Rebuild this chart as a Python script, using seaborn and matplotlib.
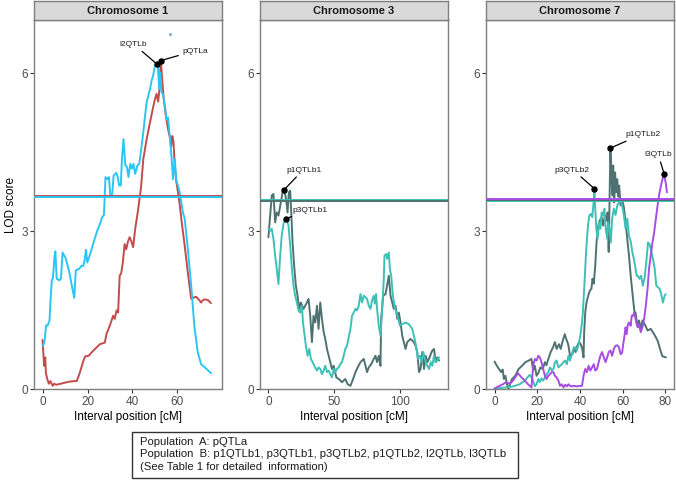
import numpy as np
import pandas as pd
import matplotlib
matplotlib.use("Agg")
import matplotlib.pyplot as plt
from matplotlib.patches import Rectangle
import seaborn as sns

sns.set_theme(style="white")
plt.rcParams['font.family'] = ['Liberation Sans', 'DejaVu Sans']

# ---------------- data ----------------
chromosomes = ["Chromosome 1", "Chromosome 3", "Chromosome 7"]

# Chromosome 1, Population A: pQTLa
chr1_pqtla_cm = [0, 0.7, 1.2, 1.5, 2.1, 2.8, 3.5, 4.5, 5.2, 6, 8, 10, 12, 14, 15.2, 16.5, 18.2, 19, 20.5,
                 22.6, 25.5, 27.7, 28.4, 29.9, 31.4, 32.1, 32.9, 33.6, 34.3, 35, 35.7, 36.5, 37.2, 38,
                 38.7, 39.5, 40.3, 41.2, 42.5, 43.1, 43.8, 44.8, 46.3, 47.8, 49.2, 50, 50.7, 51.4, 51.9,
                 52.6, 53.3, 53.9, 54.8, 55.8, 56.6, 57.2, 57.7, 58.2, 58.8, 59.5, 60.2, 61, 61.7, 63.2,
                 64.6, 66.1, 66.9, 68.3, 69, 69.8, 70.5, 71.2, 71.9, 73.4, 74.9]
chr1_pqtla_lod = [0.93, 0.44, 0.6, 0.3, 0.19, 0.1, 0.15, 0.06, 0.1, 0.08, 0.1, 0.12, 0.14, 0.15, 0.15, 0.3,
                  0.54, 0.62, 0.63, 0.73, 0.85, 0.88, 1.04, 1.2, 1.39, 1.33, 1.49, 1.45, 2.15, 2.2, 2.4,
                  2.75, 2.65, 2.8, 2.88, 2.8, 2.69, 3.04, 3.4, 3.6, 3.83, 4.36, 4.74, 5.06, 5.35, 5.5,
                  5.6, 5.45, 5.65, 6.23, 5.82, 5.5, 5.19, 4.93, 4.78, 4.6, 4.8, 4.7, 4.24, 3.93, 3.74, 3.5,
                  3.23, 2.72, 2.21, 1.71, 1.73, 1.75, 1.72, 1.68, 1.64, 1.68, 1.7, 1.69, 1.63]

# Chromosome 1, Population B: l2QTLb
chr1_l2qtlb_cm = [0.1, 0.8, 1.6, 2.2, 3.1, 3.5, 4.1, 4.6, 5.3, 5.7, 6.3, 7.5, 8.2, 8.9, 10.4, 11.9, 13.3,
                  14.1, 14.8, 16.3, 17.4, 18.1, 18.8, 19.3, 19.9, 21.4, 22.9, 24.3, 25.8, 26.5, 27.3,
                  28.0, 28.8, 29.5, 30.2, 30.9, 31.6, 32.8, 33.4, 34.1, 34.8, 35.3, 36.0, 36.8, 37.5,
                  38.2, 39.0, 39.7, 40.4, 41.2, 42.2, 43.0, 43.7, 44.8, 45.6, 46.3, 47.8, 48.5, 49.2,
                  50.0, 50.7, 51.3, 51.9, 52.4, 52.9, 53.6, 54.4, 55.1, 55.8, 56.6, 57.3, 58.0, 58.8,
                  59.5, 60.2, 61.0, 61.7, 62.4, 63.2, 64.6, 66.1, 67.5, 69.0, 70.5, 72.7, 74.9]
chr1_l2qtlb_lod = [0.82, 0.88, 1.21, 1.2, 1.3, 1.64, 2.06, 2.1, 2.5, 2.61, 2.09, 2.06, 2.1, 2.59, 2.47, 2.21,
                   1.9, 1.73, 2.25, 2.28, 2.34, 2.33, 2.47, 2.64, 2.4, 2.59, 2.81, 3.0, 3.16, 3.26, 3.3,
                   4.02, 3.98, 4.02, 3.64, 3.66, 4.05, 4.1, 4.02, 3.86, 3.86, 4.36, 4.74, 4.24, 4.22,
                   4.02, 4.27, 4.18, 4.27, 4.08, 4.24, 4.27, 4.49, 4.87, 5.19, 5.44, 5.69, 5.85, 5.95,
                   6.13, 6.17, 6.1, 5.69, 6.0, 5.63, 5.58, 5.38, 5.12, 5.15, 4.78, 4.43, 3.98, 4.36,
                   3.95, 3.86, 3.73, 3.54, 3.35, 3.23, 2.66, 1.96, 1.2, 0.7, 0.47, 0.39, 0.3]

# Chromosome 3, Population B: p1QTLb1
chr3_p1qtlb_cm = [0, 1.3, 2.5, 3.8, 5.1, 6.3, 7.6, 9.4, 10.7, 11.9, 13.4, 14.5, 15.5, 16.5, 17.3, 18.3,
                  19.5, 20.8, 22.1, 23.3, 24.6, 26.6, 29.2, 30.4, 31.7, 33.0, 34.2, 35.5, 36.8, 38.0,
                  39.3, 40.6, 41.9, 43.1, 44.4, 45.7, 46.9, 48.2, 49.5, 51.5, 53.3, 55.8, 58.3, 60.1,
                  62.2, 64.2, 66.0, 67.7, 69.8, 72.3, 73.6, 74.8, 76.1, 77.9, 79.9, 81.2, 82.4, 83.7,
                  85.0, 85.5, 87.0, 88.8, 90.0, 91.3, 92.6, 93.9, 95.1, 96.4, 97.7, 98.9, 100.2, 101.5,
                  102.7, 104.0, 105.3, 107.8, 110.3, 111.6, 112.9, 114.2, 115.4, 116.7, 118.0, 119.3,
                  120.5, 121.8, 123.1, 124.3, 125.6, 126.9, 128.1, 129.4]
chr3_p1qtlb_lod = [2.88, 3.29, 3.67, 3.7, 3.16, 3.35, 3.29, 3.54, 3.73, 3.78, 3.6, 3.35, 3.73, 3.76, 3.35,
                   2.78, 2.34, 1.96, 1.77, 1.52, 1.64, 1.52, 1.64, 1.71, 1.39, 0.89, 1.39, 1.26, 1.58,
                   1.14, 1.64, 1.33, 1.08, 0.95, 0.76, 0.63, 0.51, 0.38, 0.44, 0.22, 0.19, 0.13, 0.19,
                   0.09, 0.06, 0.19, 0.32, 0.41, 0.51, 0.57, 0.44, 0.32, 0.41, 0.47, 0.57, 0.63, 0.51,
                   0.63, 0.44, 1.33, 1.77, 1.8, 1.96, 2.15, 1.77, 1.64, 1.52, 1.58, 1.33, 1.45, 1.26,
                   1.01, 0.89, 0.76, 0.89, 0.95, 0.89, 0.82, 0.7, 0.32, 0.38, 0.7, 0.38, 0.63, 0.51,
                   0.57, 0.66, 0.73, 0.76, 0.51, 0.6, 0.54]

# Chromosome 3, Population B: p3QTLb1
chr3_p3qtlb_cm = [0, 1.3, 2.5, 3.8, 5.1, 6.3, 7.6, 8.9, 10.1, 11.4, 12.7, 14.0, 15.2, 16.5, 17.8, 19.0,
                  20.3, 21.6, 22.8, 24.1, 25.4, 26.2, 27.1, 28.4, 29.7, 31.0, 32.2, 33.5, 34.8, 36.8,
                  38.0, 39.3, 40.6, 41.9, 43.1, 44.4, 45.7, 46.9, 48.2, 49.5, 50.8, 52.0, 53.3, 54.5,
                  55.8, 57.1, 58.3, 59.6, 60.9, 62.2, 63.4, 64.7, 66.0, 67.2, 68.5, 69.8, 71.0, 72.3,
                  73.6, 74.8, 76.1, 77.4, 78.6, 79.9, 80.7, 81.7, 82.4, 83.7, 85.0, 86.3, 87.5, 88.0,
                  89.3, 90.0, 91.3, 92.1, 93.1, 94.4, 95.6, 96.9, 98.2, 99.7, 101.5, 104.0, 106.5,
                  109.1, 110.9, 112.4, 113.4, 114.9, 116.2, 117.5, 119.3, 120.5, 121.8, 123.1, 124.3,
                  125.6, 126.9, 128.1, 129.4]
chr3_p3qtlb_lod = [3.04, 3.0, 3.04, 2.85, 2.53, 2.28, 1.99, 2.53, 2.91, 3.13, 3.23, 3.2, 3.1, 2.72, 2.28,
                   1.96, 1.77, 1.64, 1.49, 1.45, 1.58, 1.26, 1.08, 0.82, 0.63, 0.76, 0.57, 0.51, 0.44,
                   0.35, 0.41, 0.38, 0.28, 0.35, 0.44, 0.32, 0.35, 0.28, 0.22, 0.38, 0.32, 0.38, 0.41,
                   0.47, 0.51, 0.63, 0.76, 0.82, 0.98, 1.14, 1.39, 1.45, 1.52, 1.49, 1.58, 1.8, 1.64,
                   1.77, 1.74, 1.71, 1.58, 1.52, 1.68, 1.77, 1.62, 1.8, 1.52, 1.2, 1.01, 1.52, 2.09,
                   2.53, 2.56, 2.47, 2.59, 2.28, 2.15, 1.77, 1.58, 1.45, 1.36, 1.2, 1.23, 1.26, 1.23,
                   1.14, 0.95, 0.76, 0.57, 0.63, 0.51, 0.7, 0.51, 0.44, 0.38, 0.51, 0.44, 0.63, 0.51,
                   0.54, 0.6]

# Chromosome 7, Population B: p1QTLb2
chr7_p1qtlb_cm = [0, 1.1, 1.9, 3.1, 3.8, 4.4, 5.1, 5.8, 6.6, 7.4, 8.2, 9.7, 11.3, 12.9, 14.5, 16.0, 17.3,
                  18.1, 18.9, 19.7, 20.5, 21.5, 22.6, 23.6, 24.3, 25.2, 26.3, 27.4, 28.3, 29.1, 30.2,
                  31.0, 31.8, 32.9, 33.6, 34.5, 35.4, 36.5, 37.3, 38.0, 38.8, 39.6, 40.4, 41.1, 41.7,
                  42.0, 42.5, 43.1, 43.9, 44.7, 45.4, 45.9, 46.5, 47.2, 47.8, 48.6, 49.4, 50.2, 50.9,
                  51.7, 52.4, 53.0, 53.5, 54.3, 54.8, 55.3, 55.6, 56.1, 56.5, 57.0, 57.5, 58.0, 58.4,
                  59.1, 59.8, 60.6, 61.4, 62.2, 63.0, 63.8, 64.8, 65.6, 66.1, 66.9, 67.7, 68.5, 69.3,
                  70.5, 71.7, 73.2, 74.8, 76.4, 78.0, 78.7, 80.3]
chr7_p1qtlb_lod = [0.52, 0.44, 0.39, 0.32, 0.37, 0.19, 0.25, 0.09, 0.0, 0.11, 0.19, 0.25, 0.38, 0.44, 0.51,
                   0.54, 0.57, 0.35, 0.44, 0.25, 0.3, 0.41, 0.38, 0.51, 0.45, 0.57, 0.7, 0.79, 0.89,
                   0.76, 0.85, 0.76, 0.89, 1.04, 0.95, 0.85, 0.63, 0.66, 0.79, 0.7, 0.82, 0.89, 0.85,
                   0.76, 0.6, 1.08, 1.45, 1.64, 1.77, 1.87, 1.9, 2.09, 2.0, 2.34, 2.78, 3.1, 3.2, 3.26,
                   3.1, 3.29, 3.2, 3.35, 2.6, 4.57, 3.98, 3.67, 4.24, 3.54, 4.11, 3.73, 3.98, 3.65,
                   3.86, 3.48, 3.6, 3.45, 3.16, 2.85, 2.53, 2.15, 1.75, 1.45, 1.45, 1.2, 1.3, 1.14, 1.3,
                   1.22, 1.11, 1.14, 1.04, 0.92, 0.7, 0.62, 0.6]

# Chromosome 7, Population B: p3QTLb2
chr7_p3qtlb_cm = [0, 3.0, 5.5, 8.7, 11.8, 14.2, 16.5, 17.7, 18.9, 19.7, 20.5, 21.2, 22.0, 22.8, 23.6,
                  24.4, 25.2, 26.0, 26.8, 27.6, 28.3, 29.1, 29.9, 30.7, 31.5, 32.3, 33.1, 33.9, 34.6,
                  35.4, 36.2, 37.0, 37.8, 38.6, 39.4, 40.2, 40.9, 41.4, 42.0, 42.5, 42.8, 43.3, 43.8,
                  44.4, 45.1, 45.8, 46.5, 46.8, 47.2, 47.7, 48.3, 49.0, 49.6, 50.2, 50.9, 51.5, 52.1,
                  52.8, 53.2, 53.9, 54.5, 55.1, 55.9, 56.7, 57.5, 58.3, 59.1, 59.8, 60.6, 61.4, 62.2,
                  63.0, 63.8, 64.6, 65.4, 66.1, 66.6, 67.1, 67.9, 68.7, 69.5, 70.3, 71.1, 71.9, 72.6,
                  73.4, 74.2, 75.0, 75.8, 76.6, 77.4, 78.1, 78.9, 79.7, 80.2]
chr7_p3qtlb_lod = [0.01, 0.02, 0.03, 0.05, 0.09, 0.16, 0.27, 0.2, 0.05, 0.09, 0.19, 0.13, 0.2, 0.16, 0.22,
                   0.28, 0.32, 0.41, 0.35, 0.38, 0.51, 0.54, 0.41, 0.44, 0.47, 0.51, 0.54, 0.47, 0.63,
                   0.54, 0.66, 0.76, 0.79, 0.73, 0.85, 1.01, 1.23, 1.45, 1.9, 2.28, 2.53, 2.85, 3.1,
                   3.29, 3.32, 3.26, 3.57, 3.8, 3.42, 3.04, 2.85, 3.16, 3.04, 3.35, 3.29, 3.42, 3.04,
                   2.85, 3.16, 3.04, 2.78, 3.23, 3.42, 3.3, 3.48, 3.54, 3.6, 3.48, 3.3, 3.04, 3.23, 2.91,
                   2.8, 2.59, 2.45, 2.28, 2.15, 2.15, 2.09, 2.15, 1.96, 2.1, 2.4, 2.78, 2.75, 2.62, 2.47,
                   2.3, 1.96, 1.93, 1.9, 1.8, 1.64, 1.77, 1.8]

# Chromosome 7, Population B: l3QTLb
chr7_l3qtlb_cm = [0, 2.4, 3.9, 5.5, 7.1, 8.7, 11.0, 12.6, 14.2, 15.7, 17.3, 18.1, 18.9, 19.7, 20.5, 21.2,
                  22.0, 22.8, 23.6, 24.4, 25.2, 26.0, 26.8, 27.6, 28.3, 29.1, 29.9, 30.7, 31.5, 32.3,
                  33.1, 33.9, 34.6, 35.4, 36.2, 37.0, 38.6, 40.2, 41.0, 41.7, 42.5, 43.3, 44.1, 44.9,
                  45.7, 46.5, 47.2, 48.0, 48.8, 49.6, 50.4, 51.2, 52.0, 52.8, 53.5, 54.3, 55.1, 55.9,
                  56.7, 57.5, 58.3, 59.1, 59.8, 60.3, 60.9, 61.4, 61.9, 62.5, 63.1, 63.8, 64.3, 64.9,
                  65.4, 66.1, 66.6, 67.1, 67.7, 68.5, 69.3, 70.1, 70.9, 71.7, 72.4, 73.2, 74.0, 74.8,
                  75.6, 76.4, 77.2, 78.0, 78.7, 79.5, 80.3, 80.8]
chr7_l3qtlb_lod = [0.01, 0.06, 0.09, 0.13, 0.1, 0.16, 0.3, 0.22, 0.16, 0.09, 0.03, 0.44, 0.57, 0.54, 0.63,
                   0.6, 0.51, 0.38, 0.25, 0.19, 0.25, 0.28, 0.32, 0.32, 0.25, 0.22, 0.16, 0.06, 0.09,
                   0.03, 0.08, 0.05, 0.09, 0.06, 0.05, 0.06, 0.05, 0.06, 0.06, 0.25, 0.38, 0.32, 0.44,
                   0.35, 0.41, 0.47, 0.35, 0.38, 0.51, 0.63, 0.7, 0.6, 0.51, 0.6, 0.7, 0.73, 0.63, 0.76,
                   0.82, 0.83, 0.79, 0.66, 0.69, 0.85, 1.01, 1.17, 1.04, 1.23, 1.26, 1.2, 1.39, 1.39,
                   1.45, 1.33, 1.23, 1.17, 1.23, 1.08, 1.17, 1.33, 1.58, 1.9, 2.28, 2.53, 2.78, 2.97,
                   3.23, 3.48, 3.7, 3.86, 3.98, 4.08, 3.89, 3.73]

# LOD significance thresholds (per chromosome, per trait)
chr1_thresholds = {"pQTLa": 3.67, "l2QTLb": 3.65}
chr3_thresholds = {"p3QTLb": 3.585, "p1QTLb": 3.575}
chr7_thresholds = {"p3QTLb": 3.575, "p1QTLb": 3.58, "l3QTLb": 3.595}

# labelled QTL peaks
peak_labels = ["l2QTLb", "pQTLa", "p1QTLb1", "p3QTLb1", "p3QTLb2", "p1QTLb2", "l3QTLb"]
peak_chrom = [0, 0, 1, 1, 2, 2, 2]
peak_cm = [50.7, 52.6, 11.9, 13.4, 46.8, 54.3, 79.5]
peak_lod = [6.17, 6.23, 3.78, 3.23, 3.80, 4.57, 4.08]
label_cm = [46.4, 62.4, 13.5, 18.0, 44.6, 61.2, 76.6]
label_lod = [6.55, 6.42, 4.17, 3.41, 4.17, 4.84, 4.46]
label_ha = ["right", "left", "left", "left", "right", "left", "center"]

# stray point in chromosome 1 panel
stray_cm = [56.7]
stray_lod = [6.74]

colors = {"pQTLa": "#C24B4B", "l2QTLb": "#2BC5F3", "p1QTLb": "#4E7272",
          "p3QTLb": "#3FC0B7", "l3QTLb": "#A64DE2"}

frames = []
def add(chrom, trait, cm, lod):
    frames.append(pd.DataFrame({"chrom": chrom, "trait": trait, "cM": cm, "LOD": lod}))

add(0, "pQTLa", chr1_pqtla_cm, chr1_pqtla_lod)
add(0, "l2QTLb", chr1_l2qtlb_cm, chr1_l2qtlb_lod)
add(1, "p1QTLb", chr3_p1qtlb_cm, chr3_p1qtlb_lod)
add(1, "p3QTLb", chr3_p3qtlb_cm, chr3_p3qtlb_lod)
add(2, "p1QTLb", chr7_p1qtlb_cm, chr7_p1qtlb_lod)
add(2, "p3QTLb", chr7_p3qtlb_cm, chr7_p3qtlb_lod)
add(2, "l3QTLb", chr7_l3qtlb_cm, chr7_l3qtlb_lod)
df = pd.concat(frames, ignore_index=True)

thresholds = [chr1_thresholds, chr3_thresholds, chr7_thresholds]
xlims = [(-3.8, 79.8), (-6.4, 136.2), (-4.0, 84.1)]
xticks = [[0, 20, 40, 60], [0, 50, 100], [0, 20, 40, 60, 80]]

# ---------------- figure ----------------
W, H = 676, 481
fig = plt.figure(figsize=(W / 100, H / 100), dpi=100)
fig.patch.set_facecolor("white")

panel_left = [34, 260, 486]
panel_w = 188
top_px, bottom_px = 21, 390
strip_top = 2

tick_col = "#4D4D4D"
for i in range(3):
    l = panel_left[i] / W
    b = (H - bottom_px) / H
    ax = fig.add_axes([l, b, panel_w / W, (bottom_px - top_px) / H])
    sub = df[df["chrom"] == i]
    order = list(dict.fromkeys(sub["trait"]))
    sns.lineplot(data=sub, x="cM", y="LOD", hue="trait", hue_order=order,
                 palette=colors, estimator=None, sort=False, linewidth=1.4,
                 legend=False, ax=ax)
    for trait, thr in thresholds[i].items():
        ax.axhline(thr, color=colors[trait], linewidth=1.4, zorder=3)
    if i == 0:
        ax.scatter(stray_cm, stray_lod, s=2, color="#8FB8D6", zorder=4)
    for j in range(len(peak_labels)):
        if peak_chrom[j] != i:
            continue
        ax.annotate(peak_labels[j], xy=(peak_cm[j], peak_lod[j]),
                    xytext=(label_cm[j], label_lod[j]), textcoords="data",
                    fontsize=6.0, color="#1A1A1A", ha=label_ha[j], va="center",
                    arrowprops=dict(arrowstyle="-", color="black", lw=0.9,
                                    shrinkA=1, shrinkB=0), zorder=6)
        ax.scatter([peak_cm[j]], [peak_lod[j]], s=13, color="black", zorder=7)
    ax.set_xlim(*xlims[i])
    ax.set_ylim(0, 7.0)
    ax.set_xticks(xticks[i])
    ax.set_yticks([0, 3, 6])
    ax.tick_params(axis="both", which="both", length=3, width=0.8, color="#333333",
                   labelsize=8.5, labelcolor=tick_col, pad=1.5, left=True, bottom=True)
    ax.set_xlabel("Interval position [cM]", fontsize=8.5, color="black", labelpad=2)
    ax.set_ylabel("LOD score" if i == 0 else "", fontsize=8.5, color="black", labelpad=3)
    for s in ax.spines.values():
        s.set_color("#7F7F7F")
        s.set_linewidth(1.0)
    ax.grid(False)
    # facet strip
    sax = fig.add_axes([l, (H - top_px) / H, panel_w / W, (top_px - strip_top) / H])
    sax.set_facecolor("#D9D9D9")
    sax.set_xticks([])
    sax.set_yticks([])
    for s in sax.spines.values():
        s.set_color("#7F7F7F")
        s.set_linewidth(1.0)
    sax.text(0.5, 0.5, chromosomes[i], ha="center", va="center", fontsize=8,
             fontweight="bold", color="#1A1A1A", transform=sax.transAxes)

# caption box
box = Rectangle((132 / W, (H - 479) / H), (518 - 132) / W, (479 - 433) / H,
                transform=fig.transFigure, facecolor="white", edgecolor="#333333",
                linewidth=1.0)
fig.patches.append(box)
caption_lines = ["Population  A: pQTLa",
                 "Population  B: p1QTLb1, p3QTLb1, p3QTLb2, p1QTLb2, l2QTLb, l3QTLb",
                 "(See Table 1 for detailed  information)"]
for k, line in enumerate(caption_lines):
    fig.text(140 / W, (H - (442 + 12.4 * k)) / H, line, fontsize=8.1, color="#1A1A1A",
             ha="left", va="center")

fig.savefig("out.png", dpi=100)
